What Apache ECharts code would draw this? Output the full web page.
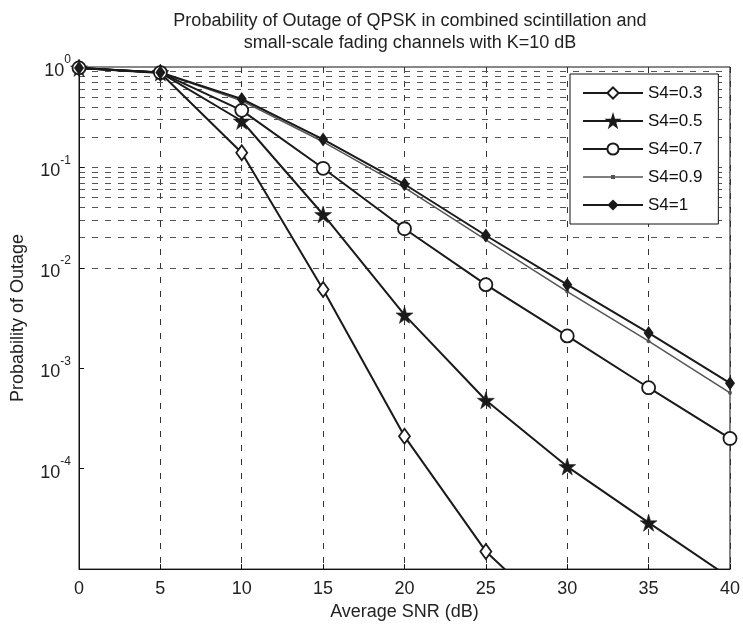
<!DOCTYPE html>
<html>
<head>
<meta charset="utf-8">
<script src="https://cdn.jsdelivr.net/npm/echarts@6/dist/echarts.min.js"></script>
<style>
html,body{margin:0;padding:0;background:#fff;}
#chart{width:743px;height:626px;}
</style>
</head>
<body>
<div id="chart"></div>
<script>
// ---- data ----
const snr = [0, 5, 10, 15, 20, 25, 30, 35, 40];
const s4_03 = [0.98, 0.87, 0.14, 0.0061, 2.1e-4, 1.5e-5, 2.6e-6, null, null];
const s4_05 = [0.98, 0.88, 0.29, 0.034, 0.0034, 4.8e-4, 1.05e-4, 2.9e-5, 8.2e-6];
const s4_07 = [0.98, 0.88, 0.37, 0.098, 0.0245, 0.0068, 0.0021, 6.4e-4, 2.0e-4];
const s4_09 = [0.98, 0.88, 0.46, 0.18, 0.063, 0.019, 0.0058, 0.00186, 5.7e-4];
const s4_1  = [0.98, 0.88, 0.48, 0.19, 0.068, 0.021, 0.0068, 0.00225, 7.1e-4];
const seriesNames = ['S4=0.3', 'S4=0.5', 'S4=0.7', 'S4=0.9', 'S4=1'];
const xTicks = [0, 5, 10, 15, 20, 25, 30, 35, 40];
const yDecades = [-5, -4, -3, -2, -1, 0];

const FONT = 'Liberation Sans, Arial, sans-serif';
const INK = '#1a1a1a';
const STAR = 'path://M50,0 L61,35 L98,35 L68,57 L79,91 L50,70 L21,91 L32,57 L2,35 L39,35 Z';
// legend icon for the dot-marker series: thin line with a small dot, anchored to a 60x14 box
const DOT_LINE_ICON = 'path://M0,0 L0.01,0 L0,0.01 Z M60,14 L59.99,14 L60,13.99 Z ' +
  'M0,6.3 L60,6.3 L60,7.7 L0,7.7 Z M28,5 L32,5 L32,9 L28,9 Z';

function pairs(ys) { return snr.map((x, i) => [x, ys[i]]); }

// gridlines (log minor + decades)
const gridVals = [];
for (let k = -5; k <= -1; k++) {
  for (let m = 1; m <= 9; m++) {
    if (k === -5 && m === 1) continue;
    gridVals.push(m * Math.pow(10, k));
  }
}

const chart = echarts.init(document.getElementById('chart'), null, {renderer: 'canvas'});
const option = {
  backgroundColor: '#fff',
  animation: false,
  textStyle: {fontFamily: FONT},
  title: {
    text: 'Probability of Outage of QPSK in combined scintillation and\nsmall-scale fading channels with K=10 dB',
    left: 405, top: 5, textAlign: 'center',
    textStyle: {fontFamily: FONT, fontSize: 18, fontWeight: 'normal', color: '#222', lineHeight: 22}
  },
  grid: {left: 79, right: 11, top: 67, bottom: 56, show: true, borderColor: '#111', borderWidth: 1, backgroundColor: 'transparent'},
  legend: {
    orient: 'vertical', left: 570, top: 74, z: 20, zlevel: 1,
    data: seriesNames.map(n => n === 'S4=0.9' ? {name: n, icon: DOT_LINE_ICON} : n),
    itemWidth: 60, itemHeight: 14, itemGap: 10,
    padding: [10, 16, 10, 12],
    borderColor: '#111', borderWidth: 1, backgroundColor: '#fff',
    textStyle: {fontFamily: FONT, fontSize: 17, color: '#111', lineHeight: 18}
  },
  xAxis: {
    type: 'value', min: 0, max: 40, interval: 5,
    name: 'Average SNR (dB)', nameLocation: 'middle', nameGap: 27,
    nameTextStyle: {fontFamily: FONT, fontSize: 18, color: '#222'},
    axisLine: {show: true, onZero: false, lineStyle: {color: '#111', width: 1}},
    axisTick: {show: true, inside: true, length: 5, lineStyle: {color: '#111'}},
    axisLabel: {fontFamily: FONT, fontSize: 18, color: '#222', margin: 11,
      formatter: v => xTicks.indexOf(v) >= 0 ? String(v) : ''},
    splitLine: {show: true, lineStyle: {color: '#333', type: [6, 8], width: 1}}
  },
  yAxis: {
    type: 'log', logBase: 10, min: 1e-5, max: 1,
    name: 'Probability of Outage', nameLocation: 'middle', nameGap: 52, nameRotate: 90,
    nameTextStyle: {fontFamily: FONT, fontSize: 18, color: '#222'},
    axisLine: {show: true, lineStyle: {color: '#111', width: 1}},
    axisTick: {show: true, inside: true, length: 5, lineStyle: {color: '#111'}},
    axisLabel: {
      margin: 8,
      formatter: function (v) {
        const e = Math.round(Math.log10(v));
        if (yDecades.indexOf(e) < 0 || e === -5) return '';
        return '{b|10}{s|' + e + '}';
      },
      rich: {
        b: {fontFamily: FONT, fontSize: 18, color: '#222', verticalAlign: 'bottom', lineHeight: 26},
        s: {fontFamily: FONT, fontSize: 12, color: '#222', verticalAlign: 'top', lineHeight: 26}
      }
    },
    splitLine: {show: false}
  },
  series: [
    {
      name: '_grid', type: 'line', data: [], silent: true, z: 0,
      markLine: {
        silent: true, symbol: 'none', label: {show: false}, animation: false, z: 0,
        lineStyle: {color: '#555', type: [6, 7], width: 1},
        data: gridVals.map(v => ({yAxis: v}))
      }
    },
    {
      name: 'S4=0.3', type: 'line', data: pairs(s4_03), clip: true,
      symbol: 'diamond', symbolSize: [11, 15], showAllSymbol: true,
      lineStyle: {color: INK, width: 2}, itemStyle: {color: '#fff', borderColor: INK, borderWidth: 1.8}, z: 5
    },
    {
      name: 'S4=0.5', type: 'line', data: pairs(s4_05), clip: true,
      symbol: STAR, symbolSize: 17,
      lineStyle: {color: INK, width: 2}, itemStyle: {color: INK, borderColor: INK, borderWidth: 0.5}, z: 5
    },
    {
      name: 'S4=0.7', type: 'line', data: pairs(s4_07), clip: true,
      symbol: 'circle', symbolSize: 13,
      lineStyle: {color: INK, width: 2}, itemStyle: {color: '#fff', borderColor: INK, borderWidth: 1.8}, z: 5
    },
    {
      name: 'S4=0.9', type: 'line', data: pairs(s4_09), clip: true,
      symbol: 'circle', symbolSize: 4,
      lineStyle: {color: '#555', width: 1.5}, itemStyle: {color: '#555'}, z: 4
    },
    {
      name: 'S4=1', type: 'line', data: pairs(s4_1), clip: true,
      symbol: 'diamond', symbolSize: [10, 14],
      lineStyle: {color: INK, width: 2}, itemStyle: {color: INK}, z: 5
    }
  ]
};
chart.setOption(option);
</script>
</body>
</html>
